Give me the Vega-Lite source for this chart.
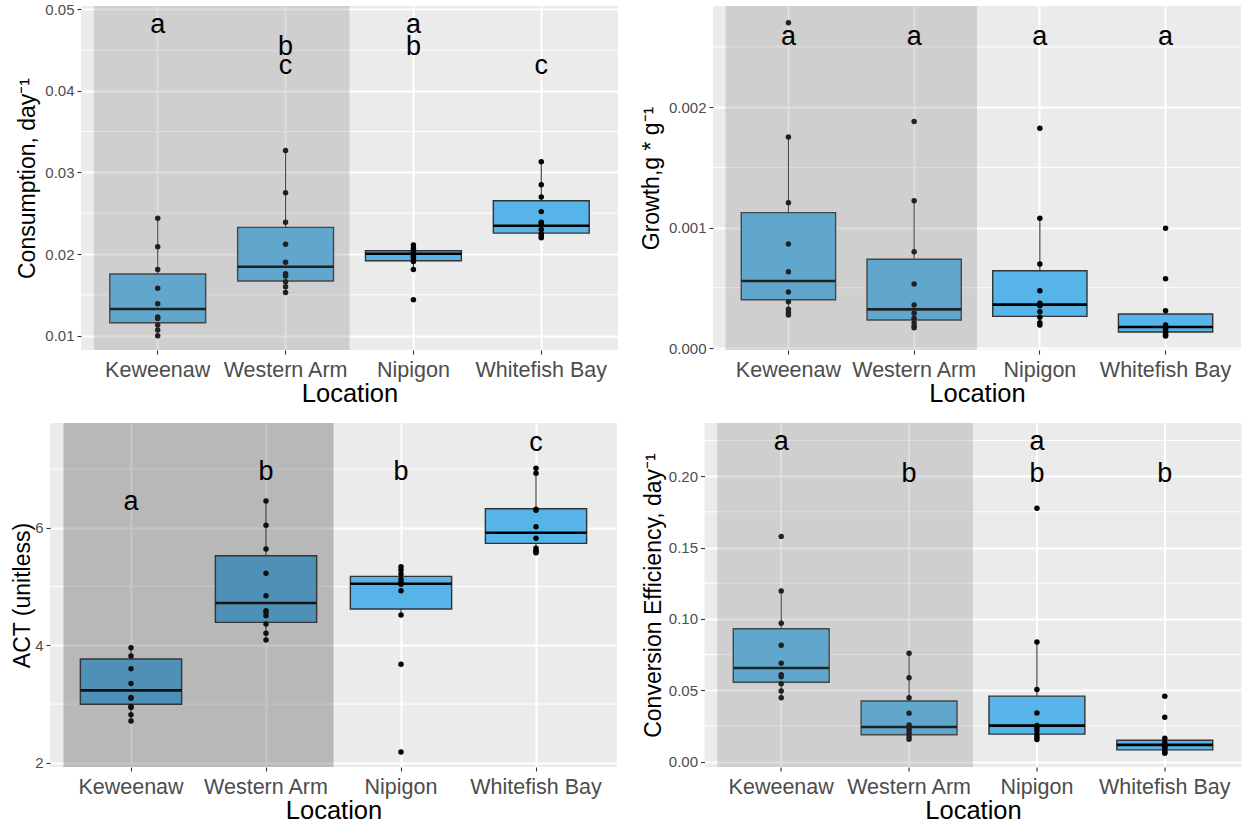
{
  "$schema": "https://vega.github.io/schema/vega-lite/v6.json",
  "background": "white",
  "padding": {"left": 0, "top": 2, "right": 0, "bottom": 0},
  "spacing": 16,
  "config": {
    "font": "Liberation Sans",
    "view": {"fill": "#EBEBEB", "stroke": null},
    "axis": {"domain": false, "tickColor": "#333333", "tickSize": 4, "tickWidth": 1.1, "labelColor": "#4D4D4D", "labelFont": "Liberation Sans", "titleFont": "Liberation Sans", "titleColor": "#000000", "titleFontWeight": "normal", "gridColor": "#FFFFFF", "gridWidth": 2, "gridOpacity": 1, "labelFlush": false, "labelOverlap": false},
    "axisX": {"labelFontSize": 21.5, "titleFontSize": 25.5, "labelAngle": 0, "labelPadding": 5, "titlePadding": 1, "grid": true},
    "axisY": {"labelFontSize": 15, "titleFontSize": 23, "labelPadding": 3, "grid": true}
  },
  "datasets": {
    "box": [
      {"panel": 1, "Location": "Keweenaw", "low": 0.0100, "q1": 0.01158, "median": 0.01326, "q3": 0.01755, "high": 0.0244},
      {"panel": 1, "Location": "Western Arm", "low": 0.0153, "q1": 0.01669, "median": 0.01845, "q3": 0.02327, "high": 0.0327},
      {"panel": 1, "Location": "Nipigon", "low": 0.0181, "q1": 0.01918, "median": 0.02004, "q3": 0.0204, "high": 0.0211},
      {"panel": 1, "Location": "Whitefish Bay", "low": 0.0220, "q1": 0.02257, "median": 0.02347, "q3": 0.02653, "high": 0.0313},
      {"panel": 2, "Location": "Keweenaw", "low": 0.000274, "q1": 0.000401, "median": 0.000556, "q3": 0.001124, "high": 0.001752},
      {"panel": 2, "Location": "Western Arm", "low": 0.000169, "q1": 0.000233, "median": 0.000321, "q3": 0.000737, "high": 0.001223},
      {"panel": 2, "Location": "Nipigon", "low": 0.000191, "q1": 0.000263, "median": 0.00036, "q3": 0.000642, "high": 0.001077},
      {"panel": 2, "Location": "Whitefish Bay", "low": 0.0001, "q1": 0.000133, "median": 0.000174, "q3": 0.000282, "high": 0.00031},
      {"panel": 3, "Location": "Keweenaw", "low": 2.71, "q1": 2.996, "median": 3.234, "q3": 3.767, "high": 3.96},
      {"panel": 3, "Location": "Western Arm", "low": 4.09, "q1": 4.391, "median": 4.72, "q3": 5.525, "high": 6.456},
      {"panel": 3, "Location": "Nipigon", "low": 4.516, "q1": 4.618, "median": 5.049, "q3": 5.174, "high": 5.338},
      {"panel": 3, "Location": "Whitefish Bay", "low": 5.576, "q1": 5.736, "median": 5.917, "q3": 6.325, "high": 7.013},
      {"panel": 4, "Location": "Keweenaw", "low": 0.0448, "q1": 0.0556, "median": 0.0656, "q3": 0.0931, "high": 0.1195},
      {"panel": 4, "Location": "Western Arm", "low": 0.0157, "q1": 0.0189, "median": 0.0243, "q3": 0.0425, "high": 0.0759},
      {"panel": 4, "Location": "Nipigon", "low": 0.0156, "q1": 0.0193, "median": 0.0253, "q3": 0.0459, "high": 0.0839},
      {"panel": 4, "Location": "Whitefish Bay", "low": 0.006, "q1": 0.0083, "median": 0.0118, "q3": 0.0150, "high": 0.0165}
    ],
    "pts": [
      {"panel": 1, "Location": "Keweenaw", "value": 0.0244}, {"panel": 1, "Location": "Keweenaw", "value": 0.0209}, {"panel": 1, "Location": "Keweenaw", "value": 0.0181}, {"panel": 1, "Location": "Keweenaw", "value": 0.0158}, {"panel": 1, "Location": "Keweenaw", "value": 0.0139}, {"panel": 1, "Location": "Keweenaw", "value": 0.0123}, {"panel": 1, "Location": "Keweenaw", "value": 0.0121}, {"panel": 1, "Location": "Keweenaw", "value": 0.0113}, {"panel": 1, "Location": "Keweenaw", "value": 0.0107}, {"panel": 1, "Location": "Keweenaw", "value": 0.0100},
      {"panel": 1, "Location": "Western Arm", "value": 0.0327}, {"panel": 1, "Location": "Western Arm", "value": 0.0275}, {"panel": 1, "Location": "Western Arm", "value": 0.0239}, {"panel": 1, "Location": "Western Arm", "value": 0.0212}, {"panel": 1, "Location": "Western Arm", "value": 0.0190}, {"panel": 1, "Location": "Western Arm", "value": 0.0176}, {"panel": 1, "Location": "Western Arm", "value": 0.0173}, {"panel": 1, "Location": "Western Arm", "value": 0.0166}, {"panel": 1, "Location": "Western Arm", "value": 0.0160}, {"panel": 1, "Location": "Western Arm", "value": 0.0153},
      {"panel": 1, "Location": "Nipigon", "value": 0.0211}, {"panel": 1, "Location": "Nipigon", "value": 0.0207}, {"panel": 1, "Location": "Nipigon", "value": 0.0204}, {"panel": 1, "Location": "Nipigon", "value": 0.0201}, {"panel": 1, "Location": "Nipigon", "value": 0.0198}, {"panel": 1, "Location": "Nipigon", "value": 0.0196}, {"panel": 1, "Location": "Nipigon", "value": 0.0194}, {"panel": 1, "Location": "Nipigon", "value": 0.0191}, {"panel": 1, "Location": "Nipigon", "value": 0.0181}, {"panel": 1, "Location": "Nipigon", "value": 0.0144},
      {"panel": 1, "Location": "Whitefish Bay", "value": 0.0313}, {"panel": 1, "Location": "Whitefish Bay", "value": 0.0285}, {"panel": 1, "Location": "Whitefish Bay", "value": 0.0270}, {"panel": 1, "Location": "Whitefish Bay", "value": 0.0252}, {"panel": 1, "Location": "Whitefish Bay", "value": 0.0239}, {"panel": 1, "Location": "Whitefish Bay", "value": 0.0237}, {"panel": 1, "Location": "Whitefish Bay", "value": 0.0230}, {"panel": 1, "Location": "Whitefish Bay", "value": 0.0225}, {"panel": 1, "Location": "Whitefish Bay", "value": 0.0222}, {"panel": 1, "Location": "Whitefish Bay", "value": 0.0220},
      {"panel": 2, "Location": "Keweenaw", "value": 0.0027}, {"panel": 2, "Location": "Keweenaw", "value": 0.001752}, {"panel": 2, "Location": "Keweenaw", "value": 0.001207}, {"panel": 2, "Location": "Keweenaw", "value": 0.000864}, {"panel": 2, "Location": "Keweenaw", "value": 0.000634}, {"panel": 2, "Location": "Keweenaw", "value": 0.000465}, {"panel": 2, "Location": "Keweenaw", "value": 0.000385}, {"panel": 2, "Location": "Keweenaw", "value": 0.000321}, {"panel": 2, "Location": "Keweenaw", "value": 0.000295}, {"panel": 2, "Location": "Keweenaw", "value": 0.000274},
      {"panel": 2, "Location": "Western Arm", "value": 0.00188}, {"panel": 2, "Location": "Western Arm", "value": 0.001223}, {"panel": 2, "Location": "Western Arm", "value": 0.0008}, {"panel": 2, "Location": "Western Arm", "value": 0.000532}, {"panel": 2, "Location": "Western Arm", "value": 0.000357}, {"panel": 2, "Location": "Western Arm", "value": 0.000288}, {"panel": 2, "Location": "Western Arm", "value": 0.000247}, {"panel": 2, "Location": "Western Arm", "value": 0.00021}, {"panel": 2, "Location": "Western Arm", "value": 0.000183}, {"panel": 2, "Location": "Western Arm", "value": 0.000169},
      {"panel": 2, "Location": "Nipigon", "value": 0.001825}, {"panel": 2, "Location": "Nipigon", "value": 0.001077}, {"panel": 2, "Location": "Nipigon", "value": 0.000698}, {"panel": 2, "Location": "Nipigon", "value": 0.000476}, {"panel": 2, "Location": "Nipigon", "value": 0.000371}, {"panel": 2, "Location": "Nipigon", "value": 0.000351}, {"panel": 2, "Location": "Nipigon", "value": 0.000301}, {"panel": 2, "Location": "Nipigon", "value": 0.000255}, {"panel": 2, "Location": "Nipigon", "value": 0.00021}, {"panel": 2, "Location": "Nipigon", "value": 0.000191},
      {"panel": 2, "Location": "Whitefish Bay", "value": 0.000994}, {"panel": 2, "Location": "Whitefish Bay", "value": 0.000576}, {"panel": 2, "Location": "Whitefish Bay", "value": 0.00031}, {"panel": 2, "Location": "Whitefish Bay", "value": 0.000191}, {"panel": 2, "Location": "Whitefish Bay", "value": 0.000177}, {"panel": 2, "Location": "Whitefish Bay", "value": 0.000158}, {"panel": 2, "Location": "Whitefish Bay", "value": 0.000141}, {"panel": 2, "Location": "Whitefish Bay", "value": 0.000122}, {"panel": 2, "Location": "Whitefish Bay", "value": 0.000105}, {"panel": 2, "Location": "Whitefish Bay", "value": 0.0001},
      {"panel": 3, "Location": "Keweenaw", "value": 3.96}, {"panel": 3, "Location": "Keweenaw", "value": 3.82}, {"panel": 3, "Location": "Keweenaw", "value": 3.60}, {"panel": 3, "Location": "Keweenaw", "value": 3.35}, {"panel": 3, "Location": "Keweenaw", "value": 3.11}, {"panel": 3, "Location": "Keweenaw", "value": 3.10}, {"panel": 3, "Location": "Keweenaw", "value": 2.96}, {"panel": 3, "Location": "Keweenaw", "value": 2.94}, {"panel": 3, "Location": "Keweenaw", "value": 2.82}, {"panel": 3, "Location": "Keweenaw", "value": 2.71},
      {"panel": 3, "Location": "Western Arm", "value": 6.456}, {"panel": 3, "Location": "Western Arm", "value": 6.043}, {"panel": 3, "Location": "Western Arm", "value": 5.639}, {"panel": 3, "Location": "Western Arm", "value": 5.226}, {"panel": 3, "Location": "Western Arm", "value": 4.844}, {"panel": 3, "Location": "Western Arm", "value": 4.589}, {"panel": 3, "Location": "Western Arm", "value": 4.562}, {"panel": 3, "Location": "Western Arm", "value": 4.504}, {"panel": 3, "Location": "Western Arm", "value": 4.363}, {"panel": 3, "Location": "Western Arm", "value": 4.204}, {"panel": 3, "Location": "Western Arm", "value": 4.09},
      {"panel": 3, "Location": "Nipigon", "value": 5.338}, {"panel": 3, "Location": "Nipigon", "value": 5.282}, {"panel": 3, "Location": "Nipigon", "value": 5.214}, {"panel": 3, "Location": "Nipigon", "value": 5.123}, {"panel": 3, "Location": "Nipigon", "value": 5.072}, {"panel": 3, "Location": "Nipigon", "value": 5.038}, {"panel": 3, "Location": "Nipigon", "value": 4.929}, {"panel": 3, "Location": "Nipigon", "value": 4.516}, {"panel": 3, "Location": "Nipigon", "value": 3.677}, {"panel": 3, "Location": "Nipigon", "value": 2.184},
      {"panel": 3, "Location": "Whitefish Bay", "value": 7.013}, {"panel": 3, "Location": "Whitefish Bay", "value": 6.928}, {"panel": 3, "Location": "Whitefish Bay", "value": 6.315}, {"panel": 3, "Location": "Whitefish Bay", "value": 6.30}, {"panel": 3, "Location": "Whitefish Bay", "value": 6.019}, {"panel": 3, "Location": "Whitefish Bay", "value": 5.821}, {"panel": 3, "Location": "Whitefish Bay", "value": 5.651}, {"panel": 3, "Location": "Whitefish Bay", "value": 5.61}, {"panel": 3, "Location": "Whitefish Bay", "value": 5.59}, {"panel": 3, "Location": "Whitefish Bay", "value": 5.576},
      {"panel": 4, "Location": "Keweenaw", "value": 0.1578}, {"panel": 4, "Location": "Keweenaw", "value": 0.1195}, {"panel": 4, "Location": "Keweenaw", "value": 0.0969}, {"panel": 4, "Location": "Keweenaw", "value": 0.0815}, {"panel": 4, "Location": "Keweenaw", "value": 0.0689}, {"panel": 4, "Location": "Keweenaw", "value": 0.0609}, {"panel": 4, "Location": "Keweenaw", "value": 0.0595}, {"panel": 4, "Location": "Keweenaw", "value": 0.0546}, {"panel": 4, "Location": "Keweenaw", "value": 0.0495}, {"panel": 4, "Location": "Keweenaw", "value": 0.0448},
      {"panel": 4, "Location": "Western Arm", "value": 0.0759}, {"panel": 4, "Location": "Western Arm", "value": 0.0588}, {"panel": 4, "Location": "Western Arm", "value": 0.0448}, {"panel": 4, "Location": "Western Arm", "value": 0.0339}, {"panel": 4, "Location": "Western Arm", "value": 0.0257}, {"panel": 4, "Location": "Western Arm", "value": 0.0241}, {"panel": 4, "Location": "Western Arm", "value": 0.0222}, {"panel": 4, "Location": "Western Arm", "value": 0.0199}, {"panel": 4, "Location": "Western Arm", "value": 0.0175}, {"panel": 4, "Location": "Western Arm", "value": 0.0157},
      {"panel": 4, "Location": "Nipigon", "value": 0.1775}, {"panel": 4, "Location": "Nipigon", "value": 0.0839}, {"panel": 4, "Location": "Nipigon", "value": 0.0505}, {"panel": 4, "Location": "Nipigon", "value": 0.0342}, {"panel": 4, "Location": "Nipigon", "value": 0.0254}, {"panel": 4, "Location": "Nipigon", "value": 0.0238}, {"panel": 4, "Location": "Nipigon", "value": 0.0219}, {"panel": 4, "Location": "Nipigon", "value": 0.0191}, {"panel": 4, "Location": "Nipigon", "value": 0.0172}, {"panel": 4, "Location": "Nipigon", "value": 0.0156},
      {"panel": 4, "Location": "Whitefish Bay", "value": 0.0459}, {"panel": 4, "Location": "Whitefish Bay", "value": 0.0312}, {"panel": 4, "Location": "Whitefish Bay", "value": 0.0165}, {"panel": 4, "Location": "Whitefish Bay", "value": 0.0133}, {"panel": 4, "Location": "Whitefish Bay", "value": 0.0116}, {"panel": 4, "Location": "Whitefish Bay", "value": 0.0102}, {"panel": 4, "Location": "Whitefish Bay", "value": 0.0091}, {"panel": 4, "Location": "Whitefish Bay", "value": 0.0079}, {"panel": 4, "Location": "Whitefish Bay", "value": 0.0067}, {"panel": 4, "Location": "Whitefish Bay", "value": 0.006}
    ],
    "letters": [
      {"panel": 1, "Location": "Keweenaw", "letter": "a", "value": 0.04806},
      {"panel": 1, "Location": "Western Arm", "letter": "b", "value": 0.04537},
      {"panel": 1, "Location": "Western Arm", "letter": "c", "value": 0.04304},
      {"panel": 1, "Location": "Nipigon", "letter": "a", "value": 0.04806},
      {"panel": 1, "Location": "Nipigon", "letter": "b", "value": 0.04537},
      {"panel": 1, "Location": "Whitefish Bay", "letter": "c", "value": 0.04304},
      {"panel": 2, "Location": "Keweenaw", "letter": "a", "value": 0.00258},
      {"panel": 2, "Location": "Western Arm", "letter": "a", "value": 0.00258},
      {"panel": 2, "Location": "Nipigon", "letter": "a", "value": 0.00258},
      {"panel": 2, "Location": "Whitefish Bay", "letter": "a", "value": 0.00258},
      {"panel": 3, "Location": "Keweenaw", "letter": "a", "value": 6.44},
      {"panel": 3, "Location": "Western Arm", "letter": "b", "value": 6.95},
      {"panel": 3, "Location": "Nipigon", "letter": "b", "value": 6.95},
      {"panel": 3, "Location": "Whitefish Bay", "letter": "c", "value": 7.44},
      {"panel": 4, "Location": "Keweenaw", "letter": "a", "value": 0.2239},
      {"panel": 4, "Location": "Western Arm", "letter": "b", "value": 0.2015},
      {"panel": 4, "Location": "Nipigon", "letter": "a", "value": 0.2239},
      {"panel": 4, "Location": "Nipigon", "letter": "b", "value": 0.2015},
      {"panel": 4, "Location": "Whitefish Bay", "letter": "b", "value": 0.2015}
    ],
    "minor": [
      {"panel": 1, "value": 0.015}, {"panel": 1, "value": 0.025}, {"panel": 1, "value": 0.035}, {"panel": 1, "value": 0.045},
      {"panel": 2, "value": 0.0005}, {"panel": 2, "value": 0.0015}, {"panel": 2, "value": 0.0025},
      {"panel": 3, "value": 3}, {"panel": 3, "value": 5}, {"panel": 3, "value": 7},
      {"panel": 4, "value": 0.025}, {"panel": 4, "value": 0.075}, {"panel": 4, "value": 0.125}, {"panel": 4, "value": 0.175}, {"panel": 4, "value": 0.225}
    ],
    "shade": [
      {"panel": 1, "from": "Keweenaw", "to": "Western Arm"},
      {"panel": 2, "from": "Keweenaw", "to": "Western Arm"},
      {"panel": 3, "from": "Keweenaw", "to": "Western Arm"},
      {"panel": 4, "from": "Keweenaw", "to": "Western Arm"}
    ]
  },
  "vconcat": [
    {
      "spacing": 0,
      "hconcat": [
        {"width": 16, "height": 1, "view": {"fill": "#FFFFFF", "stroke": null}, "data": {"values": []}, "mark": "point"},
        {
          "spacing": 21,
          "hconcat": [
            {
              "width": 537, "height": 344,
              "layer": [
                {"data": {"name": "minor"}, "transform": [{"filter": "datum.panel == 1"}], "mark": {"type": "rule", "color": "#FFFFFF", "strokeWidth": 1}, "encoding": {"y": {"field": "value", "type": "quantitative", "title": "Consumption, day⁻¹", "scale": {"domain": [0.00824, 0.0504], "nice": false, "zero": false}, "axis": {"title": "Consumption, day⁻¹", "values": [0.01, 0.02, 0.03, 0.04, 0.05], "format": ".2f", "titlePadding": 5.2}}}},
                {"data": {"name": "box"}, "transform": [{"filter": "datum.panel == 1"}], "mark": {"type": "rule", "color": "#333333", "strokeWidth": 1.1}, "encoding": {"x": {"field": "Location", "type": "nominal", "title": "Location", "scale": {"domain": ["Keweenaw", "Western Arm", "Nipigon", "Whitefish Bay"], "paddingInner": 0, "paddingOuter": 0.1}, "axis": {"title": "Location", "bandPosition": 0.5}}, "y": {"field": "low", "type": "quantitative", "title": "Consumption, day⁻¹", "scale": {"domain": [0.00824, 0.0504], "nice": false, "zero": false}}, "y2": {"field": "high"}}},
                {"data": {"name": "box"}, "transform": [{"filter": "datum.panel == 1"}], "mark": {"type": "bar", "fill": "#56B4E9", "stroke": "#333333", "strokeWidth": 1.4, "width": {"band": 0.75}}, "encoding": {"x": {"field": "Location", "type": "nominal", "title": "Location", "scale": {"domain": ["Keweenaw", "Western Arm", "Nipigon", "Whitefish Bay"], "paddingInner": 0, "paddingOuter": 0.1}}, "y": {"field": "q1", "type": "quantitative", "title": "Consumption, day⁻¹", "scale": {"domain": [0.00824, 0.0504], "nice": false, "zero": false}}, "y2": {"field": "q3"}}},
                {"data": {"name": "box"}, "transform": [{"filter": "datum.panel == 1"}], "mark": {"type": "rule", "color": "#000000", "strokeWidth": 2.6}, "encoding": {"x": {"field": "Location", "type": "nominal", "title": "Location", "bandPosition": 0.125, "scale": {"domain": ["Keweenaw", "Western Arm", "Nipigon", "Whitefish Bay"], "paddingInner": 0, "paddingOuter": 0.1}}, "x2": {"field": "Location", "bandPosition": 0.875}, "y": {"field": "median", "type": "quantitative", "title": "Consumption, day⁻¹", "scale": {"domain": [0.00824, 0.0504], "nice": false, "zero": false}}}},
                {"data": {"name": "pts"}, "transform": [{"filter": "datum.panel == 1"}], "mark": {"type": "circle", "color": "#000000", "size": 30, "opacity": 1}, "encoding": {"x": {"field": "Location", "type": "nominal", "title": "Location", "scale": {"domain": ["Keweenaw", "Western Arm", "Nipigon", "Whitefish Bay"], "paddingInner": 0, "paddingOuter": 0.1}}, "y": {"field": "value", "type": "quantitative", "title": "Consumption, day⁻¹", "scale": {"domain": [0.00824, 0.0504], "nice": false, "zero": false}}}},
                {"data": {"name": "shade"}, "transform": [{"filter": "datum.panel == 1"}], "mark": {"type": "rect", "color": "#7F7F7F", "opacity": 0.26}, "encoding": {"x": {"field": "from", "type": "nominal", "title": "Location", "bandPosition": 0, "scale": {"domain": ["Keweenaw", "Western Arm", "Nipigon", "Whitefish Bay"], "paddingInner": 0, "paddingOuter": 0.1}}, "x2": {"field": "to", "bandPosition": 1}}},
                {"data": {"name": "letters"}, "transform": [{"filter": "datum.panel == 1"}], "mark": {"type": "text", "fontSize": 27, "color": "#000000", "baseline": "middle"}, "encoding": {"x": {"field": "Location", "type": "nominal", "title": "Location", "scale": {"domain": ["Keweenaw", "Western Arm", "Nipigon", "Whitefish Bay"], "paddingInner": 0, "paddingOuter": 0.1}}, "y": {"field": "value", "type": "quantitative", "title": "Consumption, day⁻¹", "scale": {"domain": [0.00824, 0.0504], "nice": false, "zero": false}}, "text": {"field": "letter"}}}
              ]
            },
            {
              "width": 528, "height": 344,
              "layer": [
                {"data": {"name": "minor"}, "transform": [{"filter": "datum.panel == 2"}], "mark": {"type": "rule", "color": "#FFFFFF", "strokeWidth": 1}, "encoding": {"y": {"field": "value", "type": "quantitative", "title": "Growth,g * g⁻¹", "scale": {"domain": [-0.0000166, 0.00284], "nice": false, "zero": false}, "axis": {"title": "Growth,g * g⁻¹", "values": [0, 0.001, 0.002], "format": ".3f", "titlePadding": 5}}}},
                {"data": {"name": "box"}, "transform": [{"filter": "datum.panel == 2"}], "mark": {"type": "rule", "color": "#333333", "strokeWidth": 1.1}, "encoding": {"x": {"field": "Location", "type": "nominal", "title": "Location", "scale": {"domain": ["Keweenaw", "Western Arm", "Nipigon", "Whitefish Bay"], "paddingInner": 0, "paddingOuter": 0.1}, "axis": {"title": "Location", "bandPosition": 0.5}}, "y": {"field": "low", "type": "quantitative", "title": "Growth,g * g⁻¹", "scale": {"domain": [-0.0000166, 0.00284], "nice": false, "zero": false}}, "y2": {"field": "high"}}},
                {"data": {"name": "box"}, "transform": [{"filter": "datum.panel == 2"}], "mark": {"type": "bar", "fill": "#56B4E9", "stroke": "#333333", "strokeWidth": 1.4, "width": {"band": 0.75}}, "encoding": {"x": {"field": "Location", "type": "nominal", "title": "Location", "scale": {"domain": ["Keweenaw", "Western Arm", "Nipigon", "Whitefish Bay"], "paddingInner": 0, "paddingOuter": 0.1}}, "y": {"field": "q1", "type": "quantitative", "title": "Growth,g * g⁻¹", "scale": {"domain": [-0.0000166, 0.00284], "nice": false, "zero": false}}, "y2": {"field": "q3"}}},
                {"data": {"name": "box"}, "transform": [{"filter": "datum.panel == 2"}], "mark": {"type": "rule", "color": "#000000", "strokeWidth": 2.6}, "encoding": {"x": {"field": "Location", "type": "nominal", "title": "Location", "bandPosition": 0.125, "scale": {"domain": ["Keweenaw", "Western Arm", "Nipigon", "Whitefish Bay"], "paddingInner": 0, "paddingOuter": 0.1}}, "x2": {"field": "Location", "bandPosition": 0.875}, "y": {"field": "median", "type": "quantitative", "title": "Growth,g * g⁻¹", "scale": {"domain": [-0.0000166, 0.00284], "nice": false, "zero": false}}}},
                {"data": {"name": "pts"}, "transform": [{"filter": "datum.panel == 2"}], "mark": {"type": "circle", "color": "#000000", "size": 30, "opacity": 1}, "encoding": {"x": {"field": "Location", "type": "nominal", "title": "Location", "scale": {"domain": ["Keweenaw", "Western Arm", "Nipigon", "Whitefish Bay"], "paddingInner": 0, "paddingOuter": 0.1}}, "y": {"field": "value", "type": "quantitative", "title": "Growth,g * g⁻¹", "scale": {"domain": [-0.0000166, 0.00284], "nice": false, "zero": false}}}},
                {"data": {"name": "shade"}, "transform": [{"filter": "datum.panel == 2"}], "mark": {"type": "rect", "color": "#7F7F7F", "opacity": 0.26}, "encoding": {"x": {"field": "from", "type": "nominal", "title": "Location", "bandPosition": 0, "scale": {"domain": ["Keweenaw", "Western Arm", "Nipigon", "Whitefish Bay"], "paddingInner": 0, "paddingOuter": 0.1}}, "x2": {"field": "to", "bandPosition": 1}}},
                {"data": {"name": "letters"}, "transform": [{"filter": "datum.panel == 2"}], "mark": {"type": "text", "fontSize": 27, "color": "#000000", "baseline": "middle"}, "encoding": {"x": {"field": "Location", "type": "nominal", "title": "Location", "scale": {"domain": ["Keweenaw", "Western Arm", "Nipigon", "Whitefish Bay"], "paddingInner": 0, "paddingOuter": 0.1}}, "y": {"field": "value", "type": "quantitative", "title": "Growth,g * g⁻¹", "scale": {"domain": [-0.0000166, 0.00284], "nice": false, "zero": false}}, "text": {"field": "letter"}}}
              ]
            }
          ]
        }
      ]
    },
    {
      "spacing": 0,
      "hconcat": [
        {"width": 10.6, "height": 1, "view": {"fill": "#FFFFFF", "stroke": null}, "data": {"values": []}, "mark": "point"},
        {
          "spacing": 23.5,
          "hconcat": [
            {
              "width": 567, "height": 344,
              "layer": [
                {"data": {"name": "minor"}, "transform": [{"filter": "datum.panel == 3"}], "mark": {"type": "rule", "color": "#FFFFFF", "strokeWidth": 1}, "encoding": {"y": {"field": "value", "type": "quantitative", "title": "ACT (unitless)", "scale": {"domain": [1.929, 7.784], "nice": false, "zero": false}, "axis": {"title": "ACT (unitless)", "values": [2, 4, 6], "format": "d", "titlePadding": 0}}}},
                {"data": {"name": "box"}, "transform": [{"filter": "datum.panel == 3"}], "mark": {"type": "rule", "color": "#333333", "strokeWidth": 1.1}, "encoding": {"x": {"field": "Location", "type": "nominal", "title": "Location", "scale": {"domain": ["Keweenaw", "Western Arm", "Nipigon", "Whitefish Bay"], "paddingInner": 0, "paddingOuter": 0.1}, "axis": {"title": "Location", "bandPosition": 0.5}}, "y": {"field": "low", "type": "quantitative", "title": "ACT (unitless)", "scale": {"domain": [1.929, 7.784], "nice": false, "zero": false}}, "y2": {"field": "high"}}},
                {"data": {"name": "box"}, "transform": [{"filter": "datum.panel == 3"}], "mark": {"type": "bar", "fill": "#56B4E9", "stroke": "#333333", "strokeWidth": 1.4, "width": {"band": 0.75}}, "encoding": {"x": {"field": "Location", "type": "nominal", "title": "Location", "scale": {"domain": ["Keweenaw", "Western Arm", "Nipigon", "Whitefish Bay"], "paddingInner": 0, "paddingOuter": 0.1}}, "y": {"field": "q1", "type": "quantitative", "title": "ACT (unitless)", "scale": {"domain": [1.929, 7.784], "nice": false, "zero": false}}, "y2": {"field": "q3"}}},
                {"data": {"name": "box"}, "transform": [{"filter": "datum.panel == 3"}], "mark": {"type": "rule", "color": "#000000", "strokeWidth": 2.6}, "encoding": {"x": {"field": "Location", "type": "nominal", "title": "Location", "bandPosition": 0.125, "scale": {"domain": ["Keweenaw", "Western Arm", "Nipigon", "Whitefish Bay"], "paddingInner": 0, "paddingOuter": 0.1}}, "x2": {"field": "Location", "bandPosition": 0.875}, "y": {"field": "median", "type": "quantitative", "title": "ACT (unitless)", "scale": {"domain": [1.929, 7.784], "nice": false, "zero": false}}}},
                {"data": {"name": "pts"}, "transform": [{"filter": "datum.panel == 3"}], "mark": {"type": "circle", "color": "#000000", "size": 30, "opacity": 1}, "encoding": {"x": {"field": "Location", "type": "nominal", "title": "Location", "scale": {"domain": ["Keweenaw", "Western Arm", "Nipigon", "Whitefish Bay"], "paddingInner": 0, "paddingOuter": 0.1}}, "y": {"field": "value", "type": "quantitative", "title": "ACT (unitless)", "scale": {"domain": [1.929, 7.784], "nice": false, "zero": false}}}},
                {"data": {"name": "shade"}, "transform": [{"filter": "datum.panel == 3"}], "mark": {"type": "rect", "color": "#3C3C3C", "opacity": 0.29}, "encoding": {"x": {"field": "from", "type": "nominal", "title": "Location", "bandPosition": 0, "scale": {"domain": ["Keweenaw", "Western Arm", "Nipigon", "Whitefish Bay"], "paddingInner": 0, "paddingOuter": 0.1}}, "x2": {"field": "to", "bandPosition": 1}}},
                {"data": {"name": "letters"}, "transform": [{"filter": "datum.panel == 3"}], "mark": {"type": "text", "fontSize": 27, "color": "#000000", "baseline": "middle"}, "encoding": {"x": {"field": "Location", "type": "nominal", "title": "Location", "scale": {"domain": ["Keweenaw", "Western Arm", "Nipigon", "Whitefish Bay"], "paddingInner": 0, "paddingOuter": 0.1}}, "y": {"field": "value", "type": "quantitative", "title": "ACT (unitless)", "scale": {"domain": [1.929, 7.784], "nice": false, "zero": false}}, "text": {"field": "letter"}}}
              ]
            },
            {
              "width": 537, "height": 344,
              "layer": [
                {"data": {"name": "minor"}, "transform": [{"filter": "datum.panel == 4"}], "mark": {"type": "rule", "color": "#FFFFFF", "strokeWidth": 1}, "encoding": {"y": {"field": "value", "type": "quantitative", "title": "Conversion Efficiency, day⁻¹", "scale": {"domain": [-0.0037, 0.2372], "nice": false, "zero": false}, "axis": {"title": "Conversion Efficiency, day⁻¹", "values": [0, 0.05, 0.1, 0.15, 0.2], "format": ".2f", "titlePadding": 3}}}},
                {"data": {"name": "box"}, "transform": [{"filter": "datum.panel == 4"}], "mark": {"type": "rule", "color": "#333333", "strokeWidth": 1.1}, "encoding": {"x": {"field": "Location", "type": "nominal", "title": "Location", "scale": {"domain": ["Keweenaw", "Western Arm", "Nipigon", "Whitefish Bay"], "paddingInner": 0, "paddingOuter": 0.1}, "axis": {"title": "Location", "bandPosition": 0.5}}, "y": {"field": "low", "type": "quantitative", "title": "Conversion Efficiency, day⁻¹", "scale": {"domain": [-0.0037, 0.2372], "nice": false, "zero": false}}, "y2": {"field": "high"}}},
                {"data": {"name": "box"}, "transform": [{"filter": "datum.panel == 4"}], "mark": {"type": "bar", "fill": "#56B4E9", "stroke": "#333333", "strokeWidth": 1.4, "width": {"band": 0.75}}, "encoding": {"x": {"field": "Location", "type": "nominal", "title": "Location", "scale": {"domain": ["Keweenaw", "Western Arm", "Nipigon", "Whitefish Bay"], "paddingInner": 0, "paddingOuter": 0.1}}, "y": {"field": "q1", "type": "quantitative", "title": "Conversion Efficiency, day⁻¹", "scale": {"domain": [-0.0037, 0.2372], "nice": false, "zero": false}}, "y2": {"field": "q3"}}},
                {"data": {"name": "box"}, "transform": [{"filter": "datum.panel == 4"}], "mark": {"type": "rule", "color": "#000000", "strokeWidth": 2.6}, "encoding": {"x": {"field": "Location", "type": "nominal", "title": "Location", "bandPosition": 0.125, "scale": {"domain": ["Keweenaw", "Western Arm", "Nipigon", "Whitefish Bay"], "paddingInner": 0, "paddingOuter": 0.1}}, "x2": {"field": "Location", "bandPosition": 0.875}, "y": {"field": "median", "type": "quantitative", "title": "Conversion Efficiency, day⁻¹", "scale": {"domain": [-0.0037, 0.2372], "nice": false, "zero": false}}}},
                {"data": {"name": "pts"}, "transform": [{"filter": "datum.panel == 4"}], "mark": {"type": "circle", "color": "#000000", "size": 30, "opacity": 1}, "encoding": {"x": {"field": "Location", "type": "nominal", "title": "Location", "scale": {"domain": ["Keweenaw", "Western Arm", "Nipigon", "Whitefish Bay"], "paddingInner": 0, "paddingOuter": 0.1}}, "y": {"field": "value", "type": "quantitative", "title": "Conversion Efficiency, day⁻¹", "scale": {"domain": [-0.0037, 0.2372], "nice": false, "zero": false}}}},
                {"data": {"name": "shade"}, "transform": [{"filter": "datum.panel == 4"}], "mark": {"type": "rect", "color": "#7F7F7F", "opacity": 0.26}, "encoding": {"x": {"field": "from", "type": "nominal", "title": "Location", "bandPosition": 0, "scale": {"domain": ["Keweenaw", "Western Arm", "Nipigon", "Whitefish Bay"], "paddingInner": 0, "paddingOuter": 0.1}}, "x2": {"field": "to", "bandPosition": 1}}},
                {"data": {"name": "letters"}, "transform": [{"filter": "datum.panel == 4"}], "mark": {"type": "text", "fontSize": 27, "color": "#000000", "baseline": "middle"}, "encoding": {"x": {"field": "Location", "type": "nominal", "title": "Location", "scale": {"domain": ["Keweenaw", "Western Arm", "Nipigon", "Whitefish Bay"], "paddingInner": 0, "paddingOuter": 0.1}}, "y": {"field": "value", "type": "quantitative", "title": "Conversion Efficiency, day⁻¹", "scale": {"domain": [-0.0037, 0.2372], "nice": false, "zero": false}}, "text": {"field": "letter"}}}
              ]
            }
          ]
        }
      ]
    }
  ]
}
